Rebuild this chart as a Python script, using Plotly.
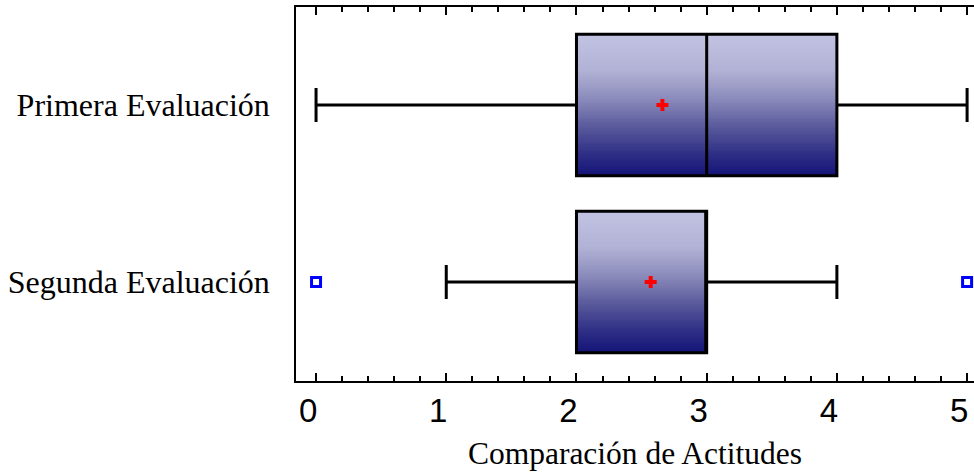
import plotly.graph_objects as go
import numpy as np

categories = ["Segunda Evaluación", "Primera Evaluación"]
positions = [0, 1]
lowerfence = [1, 0]
q1 = [2, 2]
median = [3, 3]
q3 = [3, 4]
upperfence = [4, 5]
means = [2.57, 2.66]
outlier_x = [0, 5]
outlier_cat = [0, 0]
xticks = [0, 1, 2, 3, 4, 5]

box_width = 0.8
grad_colors = [[0.0, "#141478"], [0.15, "#2e2e86"], [0.35, "#5a5a9c"],
               [0.55, "#8c8cbc"], [0.75, "#b2b2d6"], [1.0, "#c2c2e2"]]

fig = go.Figure()
nrows = 80
for i, p in enumerate(positions):
    yedges = np.linspace(p - box_width / 2, p + box_width / 2, nrows + 1)
    z = np.linspace(0, 1, nrows).reshape(-1, 1)
    fig.add_trace(go.Heatmap(x=[q1[i], q3[i]], y=yedges, z=z, colorscale=grad_colors,
                             zmin=0, zmax=1, showscale=False, hoverinfo="skip"))

for i, p in enumerate(positions):
    fig.add_trace(go.Box(y=[p], q1=[q1[i]], median=[median[i]], q3=[q3[i]],
                         lowerfence=[lowerfence[i]], upperfence=[upperfence[i]],
                         orientation="h", width=box_width, whiskerwidth=0.24,
                         fillcolor="rgba(0,0,0,0)", line=dict(color="black", width=3),
                         boxpoints=False, showlegend=False, name=categories[i]))

fig.add_trace(go.Scatter(x=means, y=positions, mode="markers",
                         marker=dict(symbol="cross", size=10, color="red"),
                         showlegend=False))
fig.add_trace(go.Scatter(x=outlier_x, y=outlier_cat, mode="markers",
                         marker=dict(symbol="square-open", size=9, color="blue",
                                     line=dict(width=3, color="blue")),
                         showlegend=False, cliponaxis=False))

xr = [-0.154, 5.053]
fig.update_layout(
    width=974, height=472, plot_bgcolor="white", paper_bgcolor="white",
    margin=dict(l=296, r=0, t=7, b=91, pad=0), showlegend=False,
    xaxis=dict(range=xr, tickvals=xticks, automargin=False, ticklabeloverflow="allow",
               ticklabelshift=-8,
               ticks="inside", ticklen=8, tickwidth=1.5, tickcolor="black",
               showline=True, linecolor="black", linewidth=1.5, mirror=True,
               showgrid=False, zeroline=False,
               minor=dict(dtick=0.2, tick0=0, ticks="inside", ticklen=5,
                          tickwidth=1.5, tickcolor="black", showgrid=False),
               tickfont=dict(family="Liberation Sans", size=33, color="black"),
               title=dict(text="Comparación de Actitudes", standoff=14,
                          font=dict(family="Liberation Serif", size=31.5, color="black"))),
    xaxis2=dict(range=xr, tickvals=xticks, overlaying="x", side="top", automargin=False,
                ticks="inside", ticklen=8, tickwidth=1.5, tickcolor="black",
                showticklabels=False, showline=False, showgrid=False, zeroline=False,
                minor=dict(dtick=0.2, tick0=0, ticks="inside", ticklen=5,
                           tickwidth=1.5, tickcolor="black", showgrid=False)),
    yaxis=dict(range=[-0.559, 1.554], tickvals=positions, ticktext=categories,
               ticks="", showline=True, linecolor="black", linewidth=1.5,
               showgrid=False, zeroline=False, ticklabelstandoff=18, automargin=False,
               tickfont=dict(family="Liberation Serif", size=32, color="black")),
)
# invisible trace to activate the top tick axis
fig.add_trace(go.Scatter(x=[means[0]], y=[positions[0]], xaxis="x2", mode="markers",
                         marker=dict(opacity=0), hoverinfo="skip", showlegend=False))

fig.write_html("out.html", config={"displayModeBar": False},
               post_script="document.body.style.margin='0';document.body.style.overflow='hidden';")
